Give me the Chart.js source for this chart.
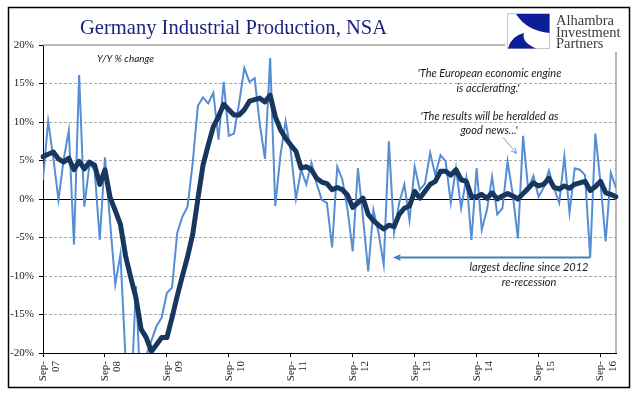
<!DOCTYPE html>
<html><head><meta charset="utf-8">
<script src="https://cdn.jsdelivr.net/npm/chart.js@4.4.0/dist/chart.umd.min.js"></script>
<style>html,body{margin:0;padding:0;background:#fff}canvas{display:block}</style>
</head><body>
<canvas id="c" width="641" height="400" style="width:641px;height:400px"></canvas>
<script>
// ---- data ----
const monthNames = ['Jan','Feb','Mar','Apr','May','Jun','Jul','Aug','Sep','Oct','Nov','Dec'];
const firstYear = 2007, firstMonth = 8, monthCount = 112; // Sep-07 .. Dec-16
const categories = [];
for (let i = 0; i < monthCount; i++) {
  const m = (firstMonth + i) % 12, y = firstYear + Math.floor((firstMonth + i) / 12);
  categories.push(monthNames[m] + '-' + String(y).slice(2));
}
const yTickValues = [-20, -15, -10, -5, 0, 5, 10, 15, 20];

// monthly Y/Y % change (light line)
const ipYoY = [
  2.5, 10.1, 5.3, -0.1, 5.1, 8.9, -5.9, 16.1, -1.0, 4.5, 3.8, -5.3,
  5.4, -3.0, -11.1, -7.2, -20.8, -27.0, -11.3, -26.5, -20.3, -18.4, -16.5, -15.4,
  -12.2, -11.5, -4.4, -2.3, -1.0, 4.7, 12.1, 13.2, 12.4, 13.8, 7.7, 15.2,
  8.2, 8.5, 12.5, 17.0, 15.2, 15.7, 9.7, 5.2, 18.3, -0.9, 5.7, 10.1,
  6.2, 0.0, 3.8, 1.9, 4.7, 2.0, -0.1, -0.5, -6.3, 4.2, 2.5, -1.4,
  -6.8, 4.0, -2.5, -9.4, -1.4, -4.4, -8.5, 7.5, -4.4, -0.5, 1.9, -2.8,
  4.2, 1.2, 2.0, 6.0, 3.1, 5.7, 4.9, -0.5, 4.0, -1.2, 2.7, -5.3,
  4.0, -4.0, -1.4, 2.9, -2.0, -1.2, 4.9, 0.6, -5.1, 8.2, 1.2, 3.0,
  0.3, 1.5, 3.7, 1.4, -0.5, 5.5, -1.8, 4.0, 3.8, 3.1, -7.6, 8.5,
  2.1, -5.5, 3.4, 1.4
];
// smoothed (dark line)
const ipSmooth = [
  5.5, 5.8, 6.1, 5.2, 4.8, 5.3, 3.8, 4.9, 3.9, 4.8, 4.4, 1.9,
  3.8, 0.2, -1.5, -3.3, -7.4, -10.2, -12.8, -16.9, -18.0, -19.8, -18.9, -18.0,
  -18.0, -15.4, -12.6, -10.0, -7.5, -4.6, 0.0, 4.4, 7.0, 9.4, 10.7, 12.3,
  11.6, 10.9, 10.9, 11.6, 12.7, 12.9, 13.1, 12.6, 13.5, 10.7, 9.0, 7.9,
  7.0, 6.2, 4.0, 4.2, 3.8, 2.7, 2.2, 2.0, 1.2, 1.5, 1.2, 0.5,
  -1.1, -0.5, 0.1, -2.0, -2.8, -3.4, -3.9, -3.4, -3.6, -2.0, -1.2, -0.9,
  1.0, 0.1, 1.0, 1.9, 2.3, 3.6, 3.6, 3.1, 3.8, 2.5, 2.3, 0.3,
  0.3, 0.6, 0.1, 0.8, 0.0, 0.4, 0.7, 0.4, 0.0, 0.7, 1.4, 2.1,
  1.7, 1.9, 2.7, 1.5, 1.3, 1.7, 1.4, 1.9, 2.1, 2.3, 1.1, 1.6,
  2.3, 0.8, 0.6, 0.3
];
const goodNewsIndex = 93;
const declineIndex = 106;
const declineRefIndex = 68;

// ---- drawing helpers ----
const serif = "'Liberation Serif', 'Times New Roman', serif";
const sans = "Lato, 'Liberation Sans', sans-serif";

const overlay = {
  id: 'overlay',
  beforeDraw(chart) {
    const ctx = chart.ctx;
    ctx.save();
    ctx.fillStyle = '#fff';
    ctx.fillRect(0, 0, chart.width, chart.height);
    ctx.restore();
  },
  beforeDatasetsDraw(chart) {
    const {ctx, chartArea: a, scales: {y}} = chart;
    ctx.save();
    // zero line
    const y0 = Math.round(y.getPixelForValue(0)) + 0.5;
    ctx.strokeStyle = '#000'; ctx.lineWidth = 1;
    ctx.beginPath(); ctx.moveTo(a.left, y0); ctx.lineTo(a.right, y0); ctx.stroke();
    // top border (to logo) & right border
    ctx.strokeStyle = '#a0a0a0'; ctx.lineWidth = 1.5;
    ctx.beginPath(); ctx.moveTo(a.left, a.top); ctx.lineTo(505, a.top); ctx.stroke();
    ctx.beginPath(); ctx.moveTo(a.right, 52); ctx.lineTo(a.right, a.bottom); ctx.stroke();
    ctx.restore();
  },
  afterDraw(chart) {
    const {ctx, chartArea: a, scales: {x, y}} = chart;
    ctx.save();
    // outer frame
    ctx.strokeStyle = '#000'; ctx.lineWidth = 1.5;
    ctx.strokeRect(8.5, 7.5, 621, 380);
    // title
    ctx.fillStyle = '#1b1f7e';
    ctx.textBaseline = 'alphabetic'; ctx.textAlign = 'left';
    let fs = 20;
    ctx.font = fs + 'px ' + serif;
    const w = ctx.measureText('Germany Industrial Production, NSA').width;
    fs = fs * 307 / w;
    ctx.font = fs.toFixed(2) + 'px ' + serif;
    ctx.fillText('Germany Industrial Production, NSA', 80, 33.5);
    // logo
    ctx.fillStyle = '#fff';
    ctx.fillRect(507, 13, 43, 36);
    ctx.strokeStyle = '#c8c8c8'; ctx.lineWidth = 1;
    ctx.strokeRect(507.5, 13.5, 42, 35);
    ctx.fillStyle = '#0c1f96';
    ctx.beginPath();
    ctx.moveTo(516, 14); ctx.lineTo(549.5, 14); ctx.lineTo(549.5, 33);
    ctx.quadraticCurveTo(527, 31, 516, 14); ctx.closePath(); ctx.fill();
    ctx.beginPath();
    ctx.moveTo(508, 48.5); ctx.quadraticCurveTo(511, 36, 524, 33);
    ctx.quadraticCurveTo(521, 42, 536, 48.5); ctx.closePath(); ctx.fill();
    ctx.fillStyle = '#3a3a3a';
    ctx.font = '14.5px ' + serif;
    ctx.fillText('Alhambra', 556, 24.5);
    ctx.fillText('Investment', 556, 36.5);
    ctx.fillText('Partners', 556, 48);
    // annotations
    ctx.fillStyle = '#1a1a1a';
    ctx.font = 'italic 10px ' + sans;
    ctx.textBaseline = 'middle';
    ctx.fillText('Y/Y % change', 97, 58.5);
    ctx.font = 'italic 11px ' + sans;
    ctx.textAlign = 'center';
    ctx.fillText("'The European economic engine", 489.5, 73);
    ctx.fillText("is acclerating.'", 488, 88.5);
    ctx.fillText("'The results will be heralded as", 489.5, 116);
    ctx.fillText("good news...'", 489, 130.5);
    ctx.fillText('largest decline since 2012', 529, 267.5);
    ctx.fillText('re-recession', 529, 282);
    // good news arrow
    const gx = x.getPixelForValue(goodNewsIndex) - 6.5;
    const gy = y.getPixelForValue(ipYoY[goodNewsIndex]) + 17.5;
    ctx.strokeStyle = '#7a9cd0'; ctx.lineWidth = 1;
    ctx.beginPath(); ctx.moveTo(503, 137.5); ctx.lineTo(gx, gy); ctx.stroke();
    const ang = Math.atan2(gy - 137.5, gx - 503);
    ctx.beginPath();
    ctx.moveTo(gx - 6 * Math.cos(ang - 0.45), gy - 6 * Math.sin(ang - 0.45));
    ctx.lineTo(gx, gy);
    ctx.lineTo(gx - 6 * Math.cos(ang + 0.45), gy - 6 * Math.sin(ang + 0.45));
    ctx.stroke();
    // largest decline arrow
    const dx1 = x.getPixelForValue(declineIndex);
    const dy = y.getPixelForValue(ipYoY[declineIndex]);
    const dx0 = x.getPixelForValue(declineRefIndex) - 1;
    ctx.strokeStyle = '#4a7ebb'; ctx.fillStyle = '#4a7ebb'; ctx.lineWidth = 2;
    ctx.beginPath(); ctx.moveTo(dx1, dy); ctx.lineTo(dx0 + 5, dy); ctx.stroke();
    ctx.beginPath();
    ctx.moveTo(dx0, dy); ctx.lineTo(dx0 + 8, dy - 3.5); ctx.lineTo(dx0 + 6, dy); ctx.lineTo(dx0 + 8, dy + 3.5);
    ctx.closePath(); ctx.fill();
    ctx.restore();
  }
};

new Chart(document.getElementById('c'), {
  type: 'line',
  data: {
    labels: categories,
    datasets: [
      { label: 'smoothed', data: ipSmooth, borderColor: '#17375e', borderWidth: 5,
        pointRadius: 0, tension: 0, borderJoinStyle: 'round', borderCapStyle: 'round', order: 1 },
      { label: 'Y/Y', data: ipYoY, borderColor: '#558ed5', borderWidth: 2,
        pointRadius: 0, tension: 0, clip: 0, order: 2 }
    ]
  },
  options: {
    responsive: false,
    animation: false,
    events: [],
    layout: { padding: { left: 0, top: 45, right: 25, bottom: 0 } },
    plugins: { legend: { display: false }, tooltip: { enabled: false }, title: { display: false } },
    scales: {
      x: {
        type: 'category',
        offset: false,
        afterFit(s) { s.height = 47; },
        grid: {
          display: true, drawOnChartArea: false, drawTicks: true, tickLength: 4,
          tickColor: (c) => (c.index % 12 === 0 ? '#000' : 'rgba(0,0,0,0)')
        },
        border: { display: true, color: '#000', width: 1 },
        ticks: {
          autoSkip: false, maxRotation: 90, minRotation: 90, padding: 4,
          color: '#222', font: { family: serif, size: 11, lineHeight: 1.15 },
          callback(v, i) {
            const lab = categories[i];
            return lab.startsWith('Sep') ? ['Sep-', lab.slice(4)] : '';
          }
        }
      },
      y: {
        min: -20, max: 20,
        afterFit(s) { s.width = 43; },
        afterBuildTicks(s) { s.ticks = yTickValues.map(v => ({ value: v })); },
        grid: {
          color: (c) => (c.tick && (c.tick.value === 0 || Math.abs(c.tick.value) === 20)) ? 'rgba(0,0,0,0)' : '#a8a8a8',
          lineWidth: 1, tickLength: 4, tickColor: '#000'
        },
        border: { display: true, color: '#000', width: 1, dash: [3, 2] },
        ticks: {
          padding: 5, color: '#222', font: { family: serif, size: 11 },
          callback: (v) => v + '%'
        }
      }
    }
  },
  plugins: [overlay]
});
</script>
</body></html>
